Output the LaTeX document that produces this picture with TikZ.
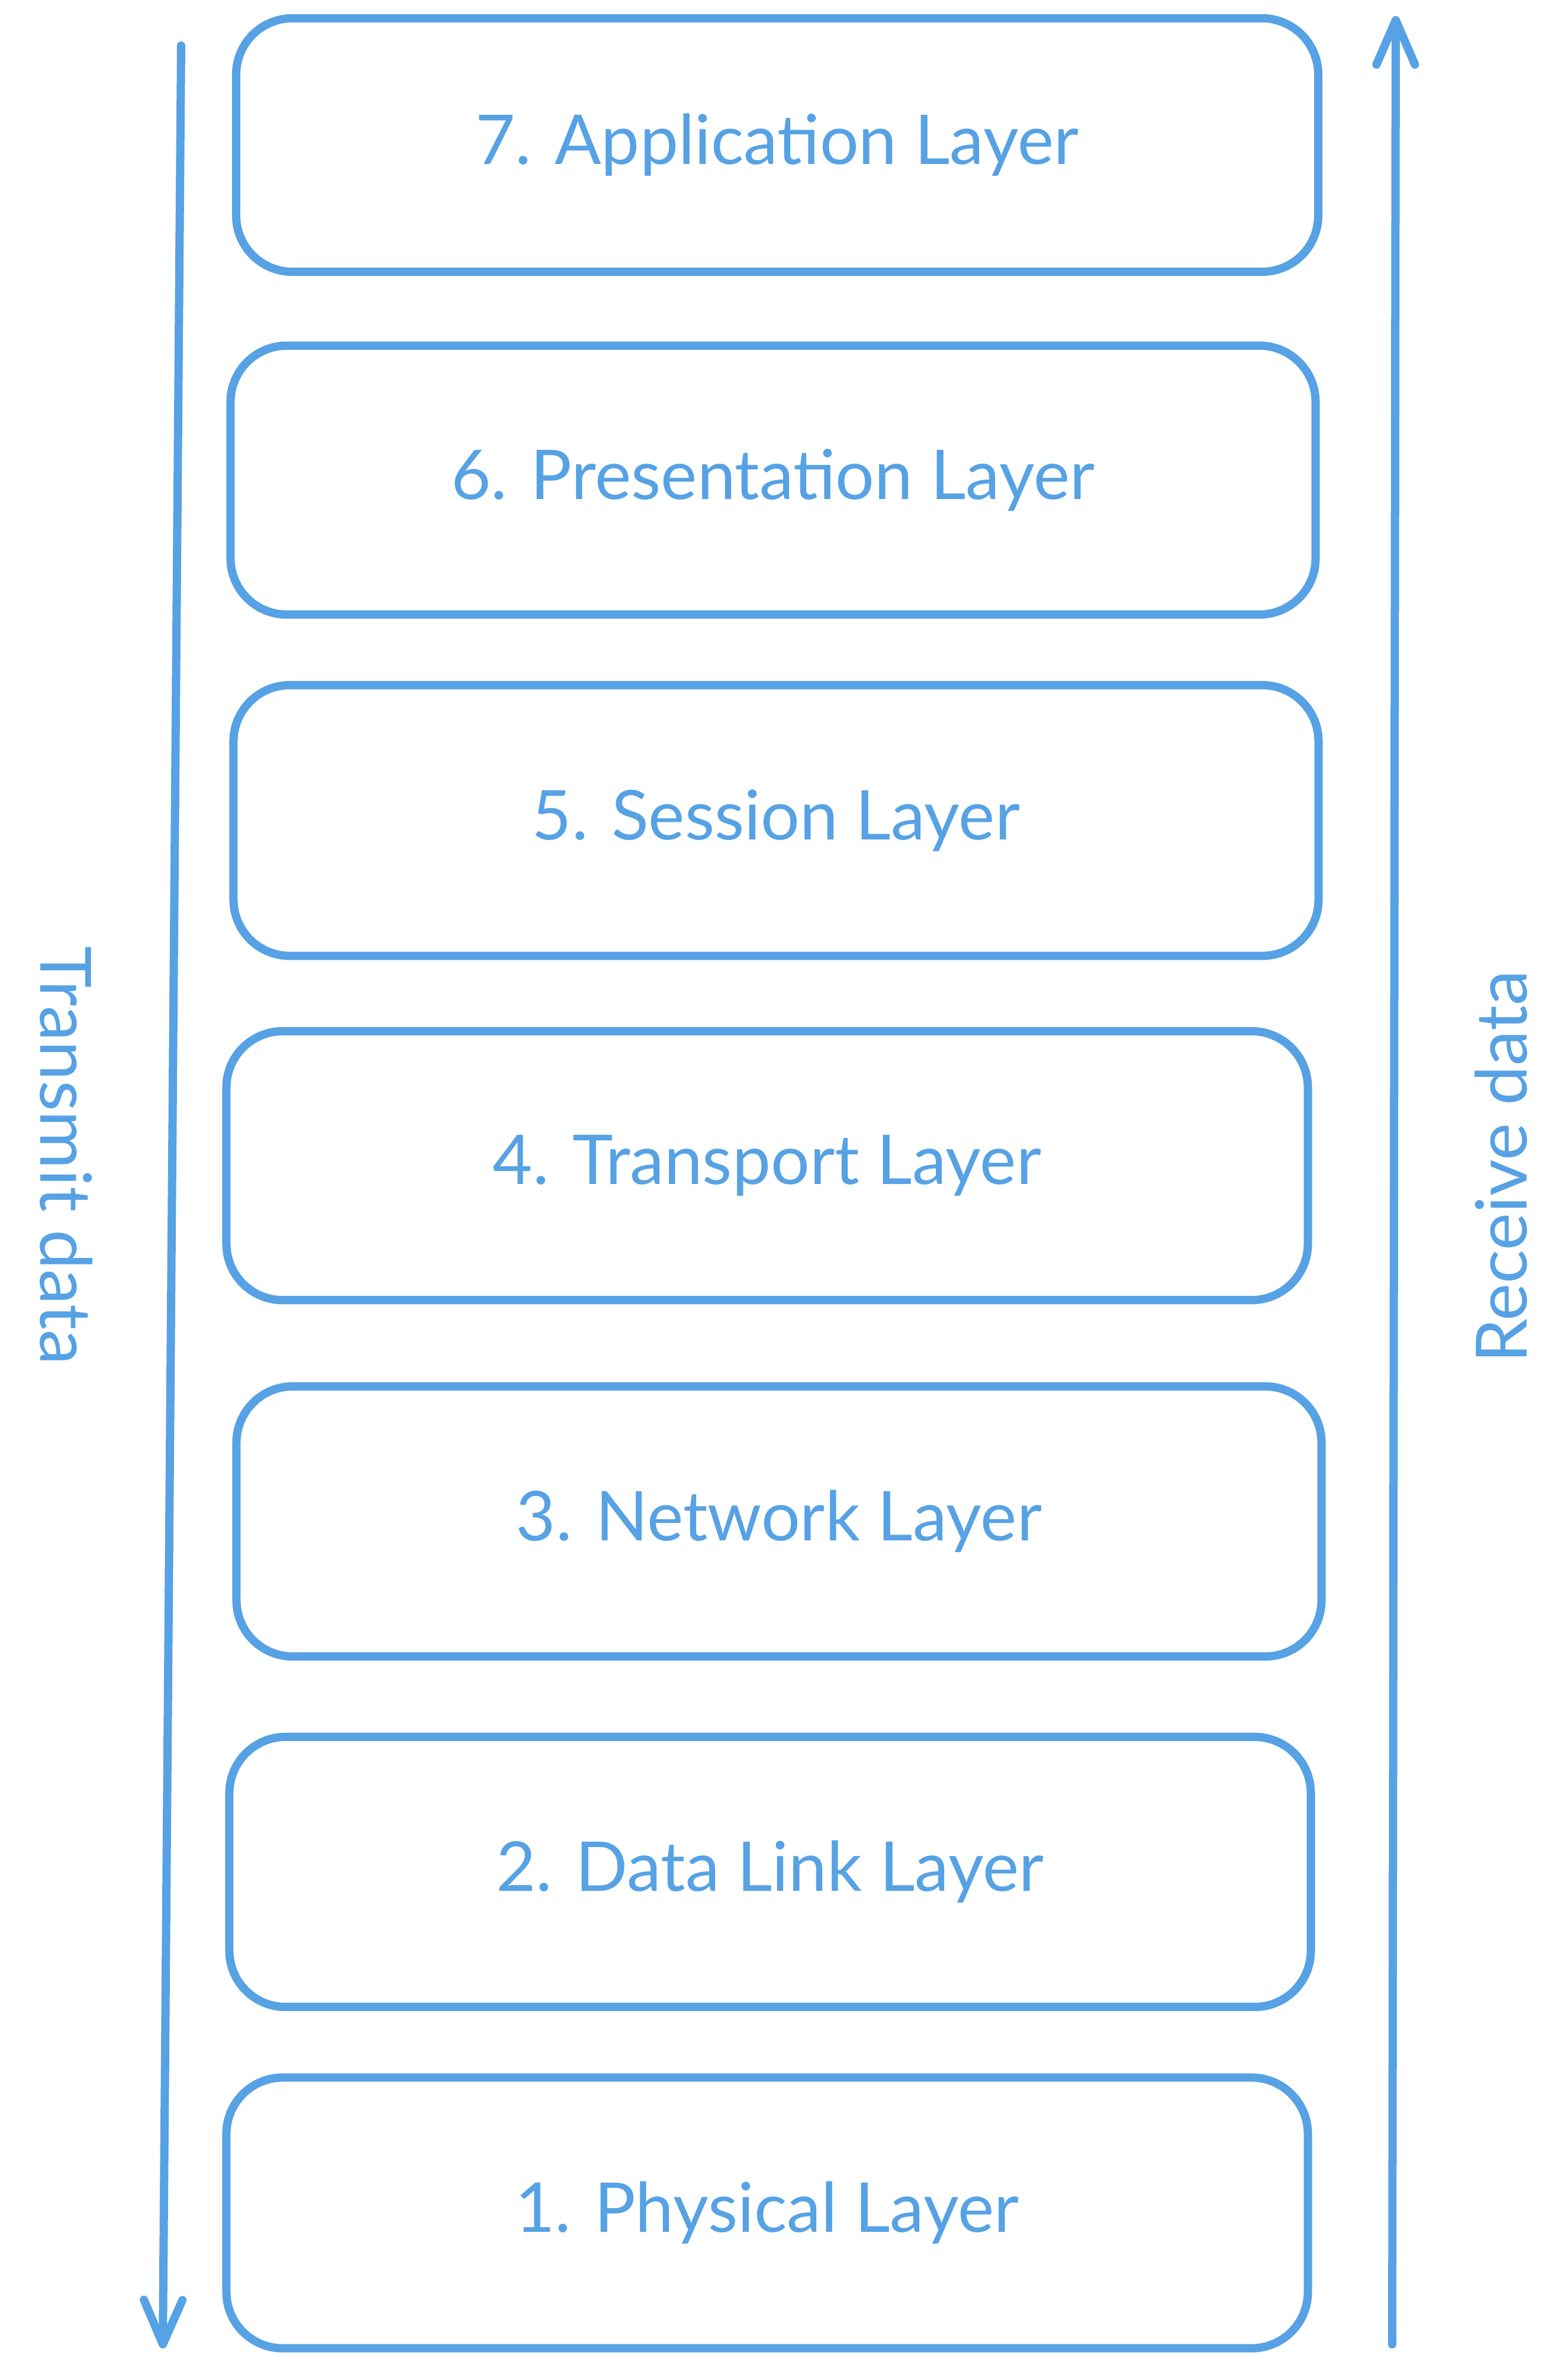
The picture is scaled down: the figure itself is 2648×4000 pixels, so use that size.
\documentclass[tikz,border=0pt]{standalone}
\usepackage{fontspec}
\setmainfont{Lato}
\usetikzlibrary{arrows.meta}
\definecolor{xblue}{RGB}{86,162,228}
\begin{document}
\begin{tikzpicture}[x=0.01cm,y=-0.01cm,
  layerbox/.style={draw=xblue, line width=0.14cm, rounded corners=0.95cm,
    text=xblue, font=\fontsize{33}{38}\selectfont, inner sep=0pt},
  sidelabel/.style={text=xblue, font=\fontsize{34}{40}\selectfont, inner sep=0pt},
  flow/.style={draw=xblue, line width=0.14cm, line cap=round, line join=round,
    -{Straight Barb[length=0.75cm,width=0.65cm,line cap=round,round]}}]
\fill[white] (0,0) rectangle (2648,4000);
\useasboundingbox (0,0) rectangle (2648,4000);
\node[layerbox, minimum width=18.27cm, minimum height=4.28cm] (l7) at (1313,245) {7. Application Layer};
\node[layerbox, minimum width=18.32cm, minimum height=4.54cm] (l6) at (1306,811) {6. Presentation Layer};
\node[layerbox, minimum width=18.32cm, minimum height=4.57cm] (l5) at (1311,1386) {5. Session Layer};
\node[layerbox, minimum width=18.26cm, minimum height=4.54cm] (l4) at (1296,1969) {4. Transport Layer};
\node[layerbox, minimum width=18.32cm, minimum height=4.56cm] (l3) at (1316,2570) {3. Network Layer};
\node[layerbox, minimum width=18.26cm, minimum height=4.56cm] (l2) at (1301,3162) {2. Data Link Layer};
\node[layerbox, minimum width=18.26cm, minimum height=4.57cm] (l1) at (1296,3738) {1. Physical Layer};
\coordinate (ta) at (306,77);
\coordinate (tb) at (275,3967);
\coordinate (ra) at (2352,3960);
\coordinate (rb) at (2358,27);
\draw[flow] (ta) -- (tb);
\draw[flow] (ra) -- (rb);
\node[sidelabel, rotate=-90] (tx) at (112,1952) {Transmit data};
\node[sidelabel, rotate=90] (rx) at (2536,1971) {Receive data};
\end{tikzpicture}
\end{document}
